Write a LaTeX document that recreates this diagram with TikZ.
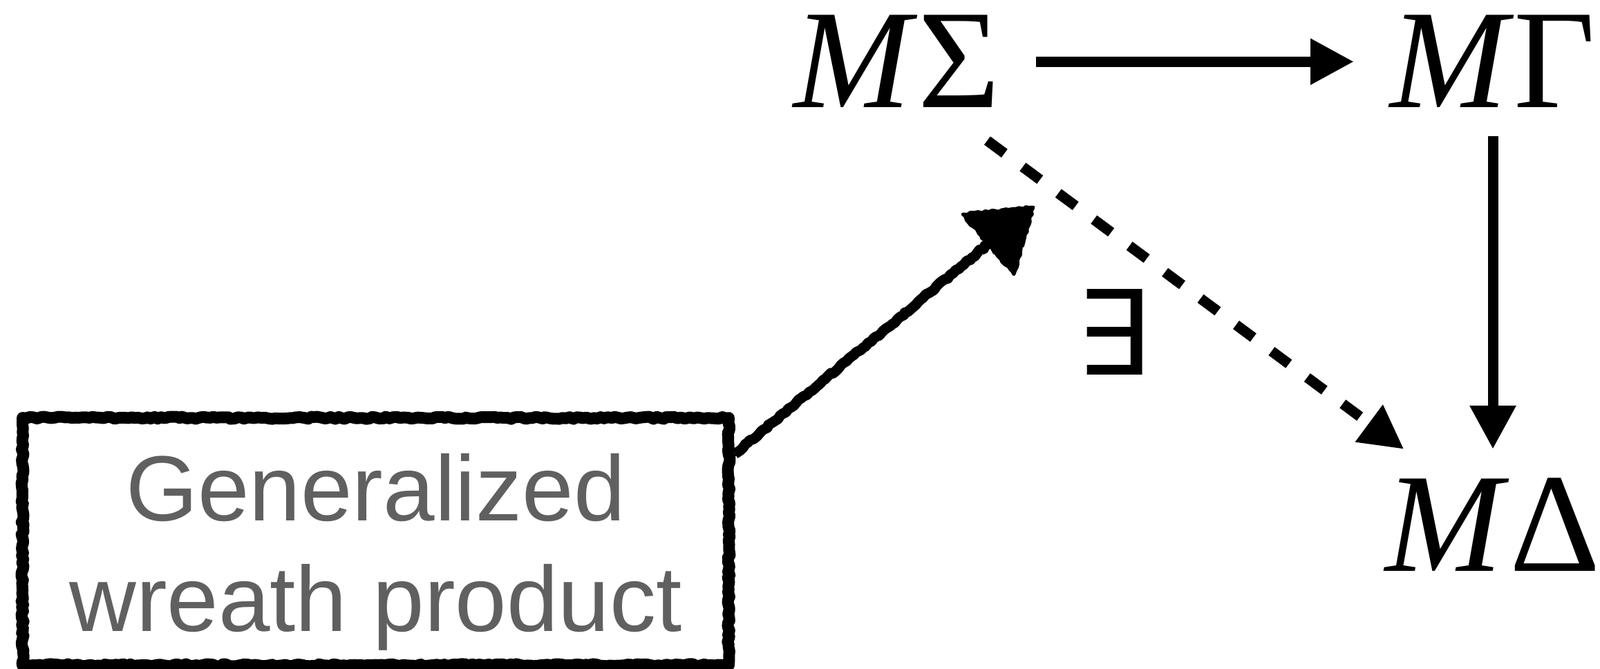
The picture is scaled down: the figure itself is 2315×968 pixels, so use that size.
\documentclass[tikz,border=0pt]{standalone}
\usepackage{fontspec}
\setmainfont{Liberation Serif}
\newfontfamily\labelfont{Liberation Sans}
\newfontfamily\symfont{DejaVu Sans}
\usetikzlibrary{arrows.meta,decorations.pathmorphing,calc}
\definecolor{labelgray}{RGB}{96,96,96}
\begin{document}
\begin{tikzpicture}[x=0.5pt,y=-0.5pt,
  math/.style={font=\fontsize{102}{112}\selectfont, inner xsep=26pt, inner ysep=20.5pt, anchor=base},
  arr/.style={line width=7.5pt, -{Triangle[length=31.5pt,width=31.5pt]}},
  dasharr/.style={arr, dash pattern=on 15.5pt off 16.5pt},
  sketchy/.style={decorate, decoration={random steps, segment length=2.5pt, amplitude=0.8pt}, line join=round},
  labelbox/.style={minimum width=510.5pt, minimum height=178.5pt, inner sep=0pt, align=center,
    text=labelgray, font=\labelfont\fontsize{67}{80}\selectfont},
  exlabel/.style={font=\symfont\fontsize{85}{90}\selectfont, inner sep=0pt}
]
\useasboundingbox (0,0) rectangle (2315,968);
% math nodes
\node[math] (ms) at (1298,156) {\textit{M}Σ};
\node[math] (mg) at (2160,156) {\textit{M}Γ};
\node[math] (md) at (2160,826) {\textit{M}Δ};
% label box
\node[labelbox] (gw) at (543.5,783.5) {\rule{0pt}{64.5pt}Generalized\\wreath product\rule[-15pt]{0pt}{15pt}};
\draw[sketchy, line width=8.5pt] (gw.north west) rectangle (gw.south east);
\draw[sketchy, line width=3pt, decoration={random steps, segment length=1.5pt, amplitude=1.5pt}] (gw.north west) rectangle (gw.south east);
% exists label
\node[exlabel] (ex) at (1610,481) {∃};
% arrows
\draw[arr] (ms) -- (mg);
\draw[arr] (mg) -- (md);
\draw[dasharr] ([shift={(-71,6)}]ms.south east) -- ([shift={(79,0)}]md.north west);
% sketchy arrow
\coordinate (tip) at (1495,300);
\draw[sketchy, line width=7.5pt] ([shift={(9,52)}]gw.north east) -- ($(tip)+(-65,53)$);
\draw[sketchy, line width=3pt, decoration={random steps, segment length=1.5pt, amplitude=1.6pt}] ([shift={(9,52)}]gw.north east) -- ($(tip)+(-65,53)$);
\filldraw[sketchy, line width=2.5pt] (tip) -- ++(-102,10) -- ++(74,87) -- cycle;
\end{tikzpicture}
\end{document}
